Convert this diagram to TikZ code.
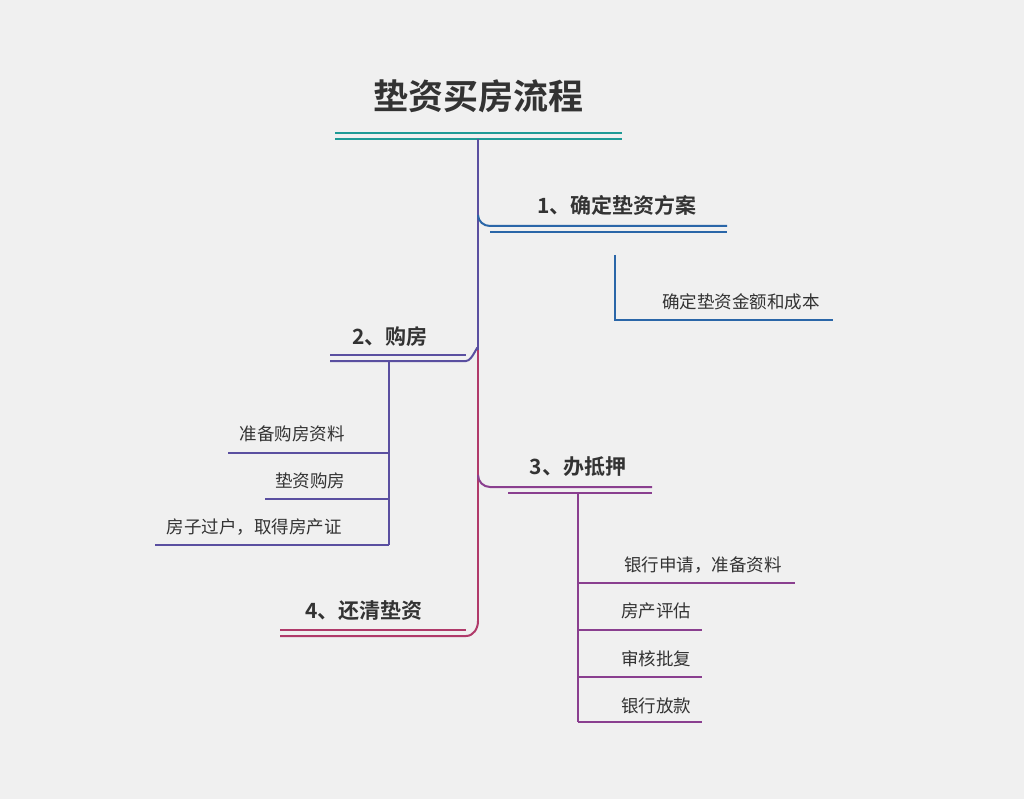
\documentclass[tikz,border=0pt]{standalone}
\usepackage{fontspec}
\newfontfamily\cjk{Noto Sans CJK SC}
\newfontfamily\cjkb{Noto Sans CJK SC Bold}
\definecolor{bg}{HTML}{F0F0F0}
\definecolor{teal1}{HTML}{1E9A96}
\definecolor{blue1}{HTML}{2A66A8}
\definecolor{pb}{HTML}{5A4FA0}
\definecolor{pur}{HTML}{8A3F8F}
\definecolor{mag}{HTML}{B03A6A}
\definecolor{txt}{HTML}{333333}
\begin{document}
\begin{tikzpicture}[x=1pt,y=-1pt,
  br/.style={font=\cjkb\fontsize{21}{21}\selectfont,text=txt},
  lf/.style={font=\cjk\fontsize{17.5}{17.5}\selectfont,text=txt},
  ln/.style={line width=2pt}]
\fill[bg] (0,0) rectangle (1024,799);
\useasboundingbox (0,0) rectangle (1024,799);
\node[font=\cjkb\fontsize{35}{35}\selectfont,text=txt] (title) at (478,96) {垫资买房流程};
\draw[teal1,ln] (335,133) -- (622,133);
\draw[teal1,ln] (335,139) -- (622,139);
% trunk
\draw[pb,ln] (478,139) -- (478,350);
\draw[mag,ln] (478,350) -- (478,622);
% branch 1
\draw[blue1,ln] (478,215) to[out=-90,in=180] (490,226) -- (727,226);
\draw[blue1,ln] (490,232) -- (727,232);
\node[br] (b1) at (617,205) {1、确定垫资方案};
\draw[blue1,ln] (615,255) -- (615,320) -- (833,320);
\node[lf] (l1) at (741,302) {确定垫资金额和成本};
% branch 2
\draw[pb,ln] (478,349) to[out=90,in=0] (466,361) -- (330,361);
\draw[pb,ln] (330,355) -- (466,355);
\node[br] (b2) at (390,337) {2、购房};
\draw[pb,ln] (389,361) -- (389,545);
\draw[pb,ln] (228,453) -- (389,453);
\draw[pb,ln] (265,499) -- (389,499);
\draw[pb,ln] (155,545) -- (389,545);
\node[lf] (l21) at (292,434) {准备购房资料};
\node[lf] (l22) at (310,481) {垫资购房};
\node[lf] (l23) at (254,527) {房子过户，取得房产证};
% branch 3
\draw[pur,ln] (478,475) to[out=-90,in=180] (490,487) -- (652,487);
\draw[pur,ln] (508,493) -- (652,493);
\node[br] (b3) at (578,467) {3、办抵押};
\draw[pur,ln] (578,493) -- (578,722);
\draw[pur,ln] (578,583) -- (795,583);
\draw[pur,ln] (578,630) -- (702,630);
\draw[pur,ln] (578,677) -- (702,677);
\draw[pur,ln] (578,722) -- (702,722);
\node[lf] (l31) at (703,565) {银行申请，准备资料};
\node[lf] (l32) at (656,611) {房产评估};
\node[lf] (l33) at (656,659) {审核批复};
\node[lf] (l34) at (656,706) {银行放款};
% branch 4
\draw[mag,ln] (478,621) to[out=-90,in=0] (466,636) -- (280,636);
\draw[mag,ln] (280,630) -- (466,630);
\node[br] (b4) at (364,611) {4、还清垫资};
\end{tikzpicture}
\end{document}
